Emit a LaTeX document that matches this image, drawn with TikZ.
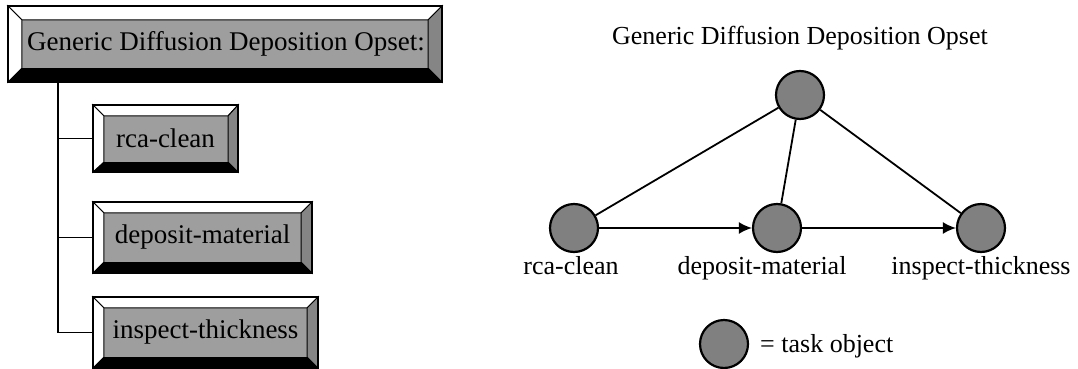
\documentclass[tikz,border=0pt]{standalone}
\usepackage{fontspec}
\setmainfont{Liberation Serif}
\usetikzlibrary{arrows.meta,calc}

\definecolor{facegray}{gray}{0.62}
\definecolor{sidegray}{gray}{0.52}
\definecolor{ballgray}{gray}{0.50}

\tikzset{
  txt/.style={font=\fontsize{26}{30}\selectfont, inner sep=0pt},
  opbox/.style={rectangle, fill=facegray, inner sep=0pt,
                font=\fontsize{27}{30}\selectfont},
  task/.style={circle, draw, line width=2.2pt, fill=ballgray,
               minimum size=48pt, inner sep=0pt},
  tree/.style={line width=1.5pt},
  link/.style={line width=1.8pt},
  flow/.style={line width=1.8pt, -{Latex[length=13pt,width=12pt]}},
  bevel/.style={line width=1pt},
}

% raised frame drawn round an operation box: light top/left, grey right, black bottom
% #1 box name, #2 width of top/left bevel, #3 width of right/bottom bevel
\newcommand{\bevelframe}[3]{%
  \coordinate (#1-inw) at ($(#1.north west)+(#2,#2)$);
  \coordinate (#1-ine) at ($(#1.north east)+(-#3,#2)$);
  \coordinate (#1-ise) at ($(#1.south east)+(-#3,-#3)$);
  \coordinate (#1-isw) at ($(#1.south west)+(#2,-#3)$);
  \filldraw[bevel, fill=white] (#1.north west) -- (#1.north east) -- (#1-ine) -- (#1-inw) -- cycle;
  \filldraw[bevel, fill=white] (#1.north west) -- (#1-inw) -- (#1-isw) -- (#1.south west) -- cycle;
  \filldraw[bevel, fill=sidegray] (#1.north east) -- (#1.south east) -- (#1-ise) -- (#1-ine) -- cycle;
  \fill[black] (#1.south west) -- (#1-isw) -- (#1-ise) -- (#1.south east) -- cycle;
  \draw[line width=1.5pt] (#1.north west) rectangle (#1.south east);
}

\begin{document}
\begin{tikzpicture}[x=1pt, y=-1pt]
  \useasboundingbox (0,0) rectangle (1078,369);

  % ---- operation set as a tree of boxes ----
  \node[opbox, minimum width=434pt, minimum height=76pt] (gdd) at (225,44)
    {\hspace*{2pt}Generic Diffusion Deposition Opset:};
  \node[opbox, minimum width=145pt, minimum height=67pt] (rcab) at (165.5,138.5)
    {rca-clean};
  \node[opbox, minimum width=219pt, minimum height=71pt] (depb) at (202.5,237.5)
    {deposit-material};
  \node[opbox, minimum width=225pt, minimum height=71pt] (insb) at (205.5,332.5)
    {inspect-thickness};

  \bevelframe{gdd}{14}{14}
  \bevelframe{rcab}{11}{10}
  \bevelframe{depb}{11}{11}
  \bevelframe{insb}{11}{11}

  \coordinate (spine) at (58,0);
  \draw[tree] (gdd.south -| spine) |- (insb.west);
  \draw[tree] (spine |- rcab.west) -- (rcab.west);
  \draw[tree] (spine |- depb.west) -- (depb.west);

  % ---- the same operation set as a task graph ----
  \node[txt, anchor=base] (title) at (800,45) {Generic Diffusion Deposition Opset};

  \node[task] (top) at (800,95) {};
  \node[task] (rca) at (574,228) {};
  \node[task] (dep) at (777,228) {};
  \node[task] (ins) at (981,228) {};

  \draw[link] (top) -- (rca);
  \draw[link] (top) -- (dep);
  \draw[link] (top) -- (ins);
  \draw[flow] (rca) -- (dep);
  \draw[flow] (dep) -- (ins);

  \node[txt, anchor=base] (rcal) at (571,274) {rca-clean};
  \node[txt, anchor=base] (depl) at (762,274) {deposit-material};
  \node[txt, anchor=base] (insl) at (981,274) {inspect-thickness};

  % legend
  \node[task] (key) at (724,344) {};
  \node[txt, anchor=base west] (keyl) at (760,352) {= task object};
\end{tikzpicture}
\end{document}
